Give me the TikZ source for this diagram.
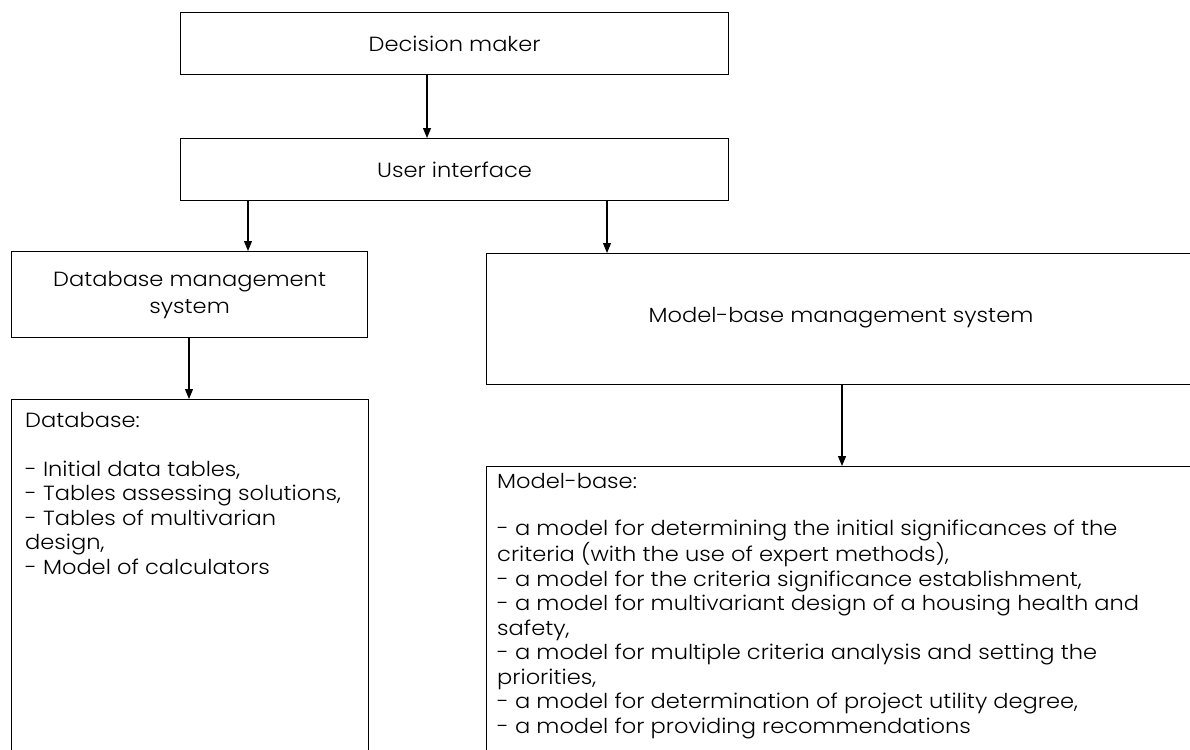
\documentclass[tikz,border=0pt]{standalone}
\usepackage{fontspec}
\setmainfont{Poppins Light}[FakeStretch=1.1]
\usetikzlibrary{arrows.meta}
\tikzset{
  box/.style={draw=black, line width=1.2pt, rectangle, inner sep=0pt, anchor=north west},
  lbl/.style={font=\fontsize{20.5}{24.5}\selectfont, text=black, inner sep=0pt},
  list/.style={lbl, align=left, anchor=north west},
  link/.style={draw=black, line width=1.1pt, -{Triangle[length=10pt,width=8pt]}}
}
\begin{document}
\begin{tikzpicture}[x=1pt,y=-1pt]
  \clip (0,0) rectangle (1190,749);
  \fill[white] (0,0) rectangle (1190,749);

  % top row: decision maker and user interface
  \node[box, minimum width=548pt, minimum height=62pt] (dm) at (180,12) {};
  \node[lbl] (dmt) at (dm.center) {Decision maker};
  \node[box, minimum width=548pt, minimum height=62pt] (ui) at (180,138) {};
  \node[lbl] (uit) at (ui.center) {User interface};

  % management systems
  \node[box, minimum width=356pt, minimum height=86pt] (dbms) at (11,251) {};
  \node[lbl, align=center, font=\fontsize{20.5}{27}\selectfont] (dbmst) at (dbms.center) {Database management\\system};
  \node[box, minimum width=760pt, minimum height=131pt] (mbms) at (486,253) {};
  \node[lbl] (mbmst) at (841,318) {Model-base management system};

  % bases (open towards the lower edge)
  \node[box, minimum width=357pt, minimum height=400pt] (db) at (11,399) {};
  \node[list] (dbt) at (25,412) {Database:\\[24.5pt]
    - Initial data tables,\\
    - Tables assessing solutions,\\
    - Tables of multivarian\\
    design,\\
    - Model of calculators};
  \node[box, minimum width=760pt, minimum height=400pt] (mb) at (486,466) {};
  \node[list] (mbt) at (497,473) {Model-base:\\[23pt]
    - a model for determining the initial significances of the\\
    criteria (with the use of expert methods),\\
    - a model for the criteria significance establishment,\\
    - a model for multivariant design of a housing health and\\
    safety,\\
    - a model for multiple criteria analysis and setting the\\
    priorities,\\
    - a model for determination of project utility degree,\\
    - a model for providing recommendations};

  % connectors
  \draw[link] (dm.south -| 427,0) -- (ui.north -| 427,0);
  \draw[link] (ui.south -| 248,0) -- (dbms.north -| 248,0);
  \draw[link] (ui.south -| 607,0) -- (mbms.north -| 607,0);
  \draw[link] (dbms.south -| 189,0) -- (db.north -| 189,0);
  \draw[link] (mbms.south -| 842,0) -- (mb.north -| 842,0);
\end{tikzpicture}
\end{document}
